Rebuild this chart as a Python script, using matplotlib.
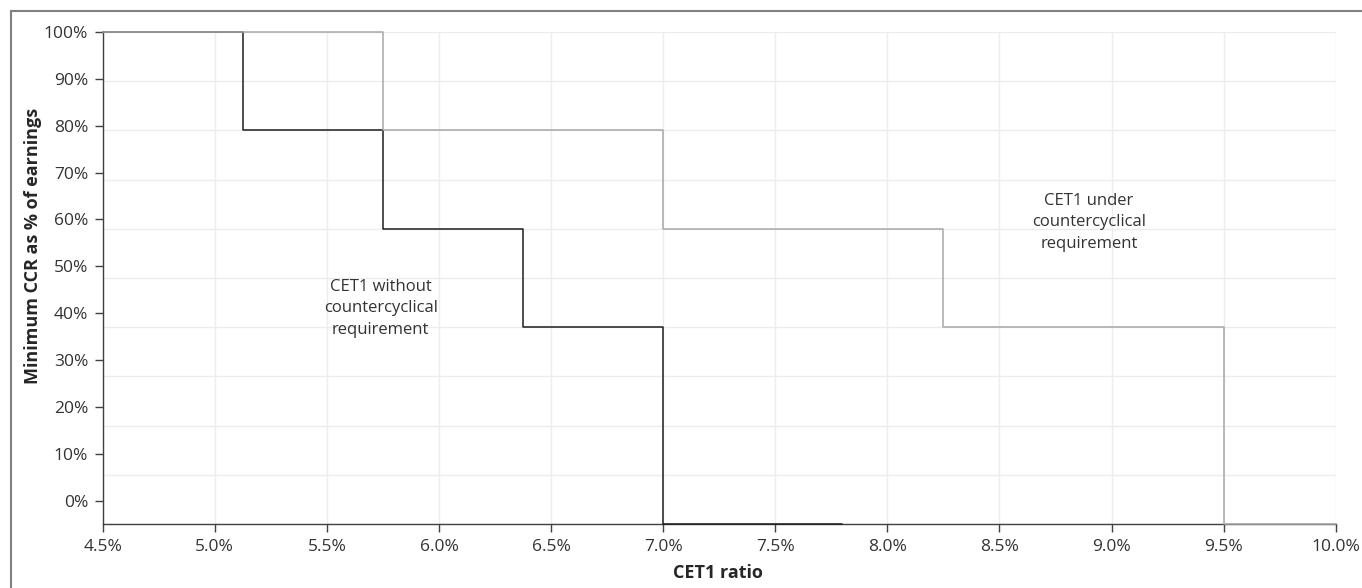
import numpy as np
import matplotlib
matplotlib.use("Agg")
from matplotlib import pyplot as plt
from matplotlib.lines import Line2D

plt.rcParams['font.family'] = ['Open Sans', 'DejaVu Sans']

# step levels (minimum CCR as % of earnings) against CET1 ratio (%)
without_x = [4.5, 5.125, 5.75, 6.375, 7.0, 7.8]
without_y = [100, 79, 58, 37, -5, -5]
under_x = [4.5, 5.75, 7.0, 8.25, 9.5, 10.0]
under_y = [100, 79, 58, 37, -5, -5]

x_ticks = [4.5, 5.0, 5.5, 6.0, 6.5, 7.0, 7.5, 8.0, 8.5, 9.0, 9.5, 10.0]
y_ticks = [0, 10, 20, 30, 40, 50, 60, 70, 80, 90, 100]

W, H = 1362, 588
fig = plt.figure(figsize=(W / 100, H / 100), dpi=100)
ax = fig.add_axes([102.7 / W, 1 - 524 / H, 1233 / W, 492 / H])

# grid (horizontal grid follows a separate 10-division scale)
for gx in x_ticks:
    ax.axvline(gx, color='#ececec', lw=1.0, zorder=0)
for gy in np.linspace(-5, 100, 11):
    ax.axhline(gy, color='#ececec', lw=1.0, zorder=0)

ax.step(without_x, without_y, where='post', color='#1e1e1e', lw=1.1, zorder=3, clip_on=False)
ax.step(under_x, under_y, where='post', color='#a8a8a8', lw=1.1, zorder=4, clip_on=False)

ax.set_xlim(4.5, 10.0)
ax.set_ylim(-5, 100)
ax.set_xticks(x_ticks)
ax.set_xticklabels([f"{v:.1f}%" for v in x_ticks])
ax.set_yticks(y_ticks)
ax.set_yticklabels([f"{v}%" for v in y_ticks])
ax.tick_params(axis='both', labelsize=12.5, colors='#404040', labelcolor='#333333',
               length=5.5, width=1.0, direction='out')
ax.tick_params(axis='y', pad=5)
ax.tick_params(axis='x', pad=5)

for side in ['top', 'right']:
    ax.spines[side].set_visible(False)
for side in ['left', 'bottom']:
    ax.spines[side].set_color('#404040')
    ax.spines[side].set_linewidth(1.0)

ax.text(5.74, 41, "CET1 without\ncountercyclical\nrequirement", ha='center', va='center',
        fontsize=12, color='#333333', linespacing=1.45)
ax.text(8.9, 59.4, "CET1 under\ncountercyclical\nrequirement", ha='center', va='center',
        fontsize=12, color='#333333', linespacing=1.45)

fig.text(718 / W, 1 - 573 / H, "CET1 ratio", ha='center', va='center',
         fontsize=13, fontweight='bold', color='#262626')
fig.text(33 / W, 1 - 246 / H, "Minimum CCR as % of earnings", ha='center', va='center',
         rotation=90, fontsize=13, fontweight='bold', color='#262626')

# outer frame
fig.add_artist(Line2D([11 / W, 11 / W], [0, 1 - 11 / H], color='#808080', lw=1.5,
                      transform=fig.transFigure))
fig.add_artist(Line2D([11 / W, 1], [1 - 11 / H, 1 - 11 / H], color='#808080', lw=1.5,
                      transform=fig.transFigure))

fig.savefig("out.png", dpi=100)
